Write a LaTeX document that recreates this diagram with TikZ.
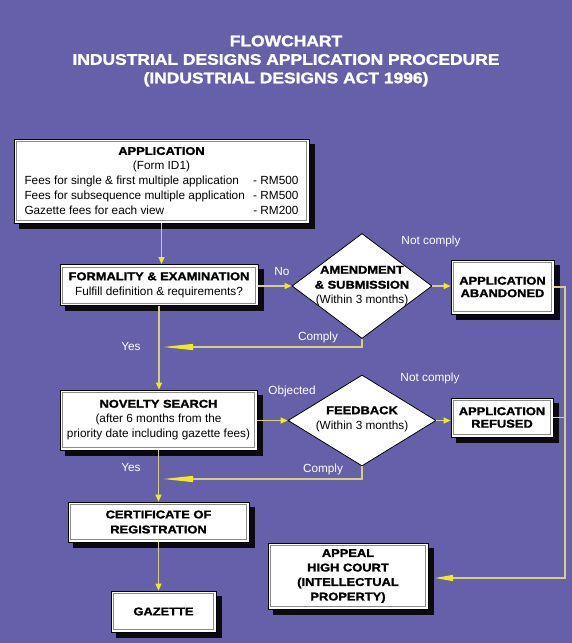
\documentclass[tikz,border=0pt]{standalone}
\usepackage{fontspec}
\setmainfont{Liberation Sans}
\newfontfamily\headfont[FakeStretch=1.14,BoldFeatures={FakeBold=1.6}]{Liberation Sans}
\usetikzlibrary{arrows.meta,shapes.geometric}

\definecolor{bgpurple}{RGB}{102,95,170}
\definecolor{linecol}{RGB}{214,208,120}
\definecolor{tipcol}{RGB}{240,235,30}
\definecolor{shadowcol}{RGB}{12,10,14}

\newcommand{\hd}{\headfont\bfseries\fontsize{11.3}{15}\selectfont}
\newcommand{\hdtight}{\headfont\bfseries\fontsize{11.3}{12.5}\selectfont}
\newcommand{\bd}{\fontsize{11.8}{15}\selectfont}
\newcommand{\feeline}[2]{\hbox to 274pt{#1\ \hfil #2}}

\tikzset{
	stepbox/.style={draw=black, fill=white, line width=0.8pt, inner sep=0pt, align=center},
	shadowbox/.style={fill=shadowcol, inner sep=0pt, outer sep=0pt},
	decision/.style={diamond, draw=black, fill=white, line width=0.8pt, inner sep=0pt},
	wire/.style={draw=linecol, line width=1.2pt},
	flow/.style={wire, -{Triangle[length=7pt,width=6pt,color=tipcol]}},
	back/.style={wire, -{Triangle[length=30pt,width=6pt,color=tipcol]}},
	note/.style={text=white, font=\bd},
}

\begin{document}
\begin{tikzpicture}[x=1pt,y=-1pt]

	\fill[bgpurple] (0,0) rectangle (572,643); %background
	\useasboundingbox (0,0) rectangle (572,643);

	% shadows, 5 right and 5 down of each box
	\node[shadowbox, minimum width=296, minimum height=85] (appsh) at (166.5,186) {};
	\node[shadowbox, minimum width=199, minimum height=42] (formsh) at (164,290) {};
	\node[shadowbox, minimum width=198, minimum height=61] (novsh) at (163.5,425) {};
	\node[shadowbox, minimum width=182, minimum height=41] (certsh) at (163.5,527) {};
	\node[shadowbox, minimum width=106, minimum height=42] (gazsh) at (168.5,616.5) {};
	\node[shadowbox, minimum width=104, minimum height=55] (abandsh) at (507.5,292) {};
	\node[shadowbox, minimum width=103, minimum height=40] (refusedsh) at (507,422.5) {};
	\node[shadowbox, minimum width=161, minimum height=67] (appealsh) at (353,581) {};

	\node[text=white, align=center, font=\headfont\bfseries\fontsize{15.3}{18.5}\selectfont] (title) at (286,61)
		{FLOWCHART\\INDUSTRIAL DESIGNS APPLICATION PROCEDURE\\(INDUSTRIAL DESIGNS ACT 1996)};

	% main column
	\node[stepbox, minimum width=295, minimum height=84, font=\bd] (app) at (161.5,181)
		{{\hd APPLICATION}\\(Form ID1)\\
		\feeline{Fees for single \& first multiple application}{- RM500}\\
		\feeline{Fees for subsequence multiple application}{- RM500}\\
		\feeline{Gazette fees for each view}{- RM200}};
	\node[stepbox, minimum width=198, minimum height=41, font=\bd] (form) at (159,285)
		{{\hd FORMALITY \& EXAMINATION}\\Fulfill definition \& requirements?};
	\node[stepbox, minimum width=197, minimum height=60, font=\bd] (nov) at (158.5,420)
		{{\hd NOVELTY SEARCH}\\(after 6 months from the\\priority date including gazette fees)};
	\node[stepbox, minimum width=181, minimum height=40, font=\hd] (cert) at (158.5,522)
		{CERTIFICATE OF\\REGISTRATION};
	\node[stepbox, minimum width=105, minimum height=41, font=\hd] (gaz) at (163.5,611.5) {GAZETTE};

	% decisions
	\node[decision, minimum width=140, minimum height=105] (amend) at (362,286) {};
	\node[align=center, font=\bd] (amendtxt) at (amend) {{\hd AMENDMENT}\\{\hd \& SUBMISSION}\\(Within 3 months)};
	\node[decision, minimum width=148, minimum height=91] (feed) at (362,420.5) {};
	\node[align=center, font=\bd] (feedtxt) at (362,419) {{\hd FEEDBACK}\\(Within 3 months)};

	% outcomes
	\node[stepbox, minimum width=103, minimum height=54, font=\hdtight] (aband) at (502.5,287) {APPLICATION\\ABANDONED};
	\node[stepbox, minimum width=102, minimum height=39, font=\hdtight] (refused) at (502,417.5) {APPLICATION\\REFUSED};
	\node[stepbox, minimum width=160, minimum height=66, font=\headfont\bfseries\fontsize{11.3}{14.5}\selectfont] (appeal) at (348,576)
		{APPEAL\\HIGH COURT\\(INTELLECTUAL\\PROPERTY)};

	% inner frames of the boxes
	\foreach \b in {app,form,nov,cert,gaz,aband,refused,appeal}
		\draw[black!45, line width=0.7pt] ([shift={(3pt,3pt)}]\b.south west) rectangle ([shift={(-3pt,-3pt)}]\b.north east);

	\coordinate (join1) at (163,347);
	\coordinate (join2) at (163,479);
	\coordinate (rail) at (565,287);
	\coordinate (appealin) at (435,578);

	\draw[flow] (app.south) -- (app.south |- form.north);
	\draw[flow] (form.south) -- (form.south |- nov.north);
	\draw[flow] (nov.south) -- (nov.south |- cert.north);
	\draw[flow] (cert.south) -- (cert.south |- gaz.north);
	\draw[flow] (form.east |- amend) -- (amend.west);
	\draw[flow] (amend.east) -- (aband.west |- amend);
	\draw[flow] (nov.east |- feed) -- (feed.west);
	\draw[flow] (feed.east) -- (refused.west |- feed);
	\draw[back] (amend.south) |- (join1); %comply
	\draw[back] (feed.south) |- (join2); %comply
	\draw[wire, -{Triangle[length=18pt,width=6pt,color=tipcol]}] (aband.east) -- (rail) |- (appealin);
	\draw[wire] (refused.east) -- (refused.east -| rail);

	\node[note] (no) at (282,271) {No};
	\node[note] (notc1) at (431,241) {Not comply};
	\node[note] (comply1) at (318,337) {Comply};
	\node[note] (yes1) at (131,346) {Yes};
	\node[note] (obj) at (292,391) {Objected};
	\node[note] (notc2) at (430,378) {Not comply};
	\node[note] (comply2) at (323,469) {Comply};
	\node[note] (yes2) at (131,467) {Yes};

\end{tikzpicture}
\end{document}
